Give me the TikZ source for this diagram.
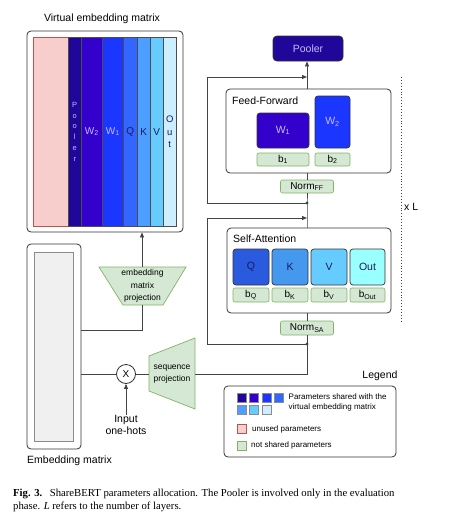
\documentclass[tikz,border=0pt]{standalone}
\usepackage{fontspec}
\setmainfont{Liberation Sans}
\newfontfamily\capfont{Liberation Serif}
\usetikzlibrary{arrows.meta}
\definecolor{pinkF}{HTML}{F8CECC}
\definecolor{pinkD}{HTML}{B85450}
\definecolor{greenF}{HTML}{D5E8D4}
\definecolor{greenD}{HTML}{82B366}
\definecolor{cPool}{HTML}{21069A}
\definecolor{cPurp}{HTML}{3300CC}
\definecolor{cBlue}{HTML}{1A36FF}
\definecolor{cQ}{HTML}{3366FF}
\definecolor{cK}{HTML}{4D9FFF}
\definecolor{cV}{HTML}{66CCFF}
\definecolor{cOutV}{HTML}{CCEEFF}
\definecolor{saQ}{HTML}{2A5BDF}
\definecolor{saK}{HTML}{4499EE}
\definecolor{saV}{HTML}{66CCFF}
\definecolor{saOut}{HTML}{99FFFF}
\definecolor{lav}{HTML}{C4BCFF}
\definecolor{darktxt}{HTML}{1A1A5E}
\definecolor{lineC}{HTML}{444444}
\newcommand{\fs}[2]{\fontsize{#1}{#2}\selectfont}
\tikzset{
  box/.style={draw=black!80, line width=0.8pt, rounded corners=4pt, inner sep=0pt},
  bbox/.style={draw=greenD, fill=greenF, rounded corners=2pt, line width=0.6pt, inner sep=0pt, font=\fs{10}{12}},
  strip/.style={draw=black!70, line width=0.5pt, minimum height=189pt, inner sep=0pt, anchor=north west},
  wbox/.style={draw=black!80, line width=0.7pt, rounded corners=3pt, inner sep=0pt},
  ln/.style={draw=lineC, line width=0.8pt},
  arr/.style={ln, -{Triangle[length=5pt,width=4pt]}},
  lsq/.style={draw=black!45, line width=0.4pt, minimum width=9pt, minimum height=9pt, inner sep=0pt},
  lbl/.style={inner sep=0pt},
}
\begin{document}
\begin{tikzpicture}[x=1pt,y=-1pt]
\useasboundingbox (0,0) rectangle (462,525);
% ---------- Virtual embedding matrix ----------
\node[lbl, font=\fs{10.5}{12}] (vemt) at (102,19) {Virtual embedding matrix};
\node[box, minimum width=156pt, minimum height=201pt] (vem) at (105,131.5) {};
\node[strip, fill=pinkF, draw=pinkD, minimum width=35pt] (s0) at (33,37) {};
\node[strip, fill=cPool, minimum width=13pt, text=lav, font=\fs{7.5}{10.8}, align=center] (s1) at (68,37) {P\\o\\o\\l\\e\\r};
\node[strip, fill=cPurp, minimum width=21pt, text=lav, font=\fs{10}{12}] (s2) at (81,37) {W\textsubscript{2}};
\node[strip, fill=cBlue, minimum width=21pt, text=lav, font=\fs{10}{12}] (s3) at (102,37) {W\textsubscript{1}};
\node[strip, fill=cQ, minimum width=14pt, text=darktxt, font=\fs{10}{12}] (s4) at (123,37) {Q};
\node[strip, fill=cK, minimum width=13pt, text=darktxt, font=\fs{10}{12}] (s5) at (137,37) {K};
\node[strip, fill=cV, minimum width=13pt, text=darktxt, font=\fs{10}{12}] (s6) at (150,37) {V};
\node[strip, fill=cOutV, minimum width=13pt, text=darktxt, font=\fs{9.5}{12.5}, align=center] (s7) at (163,37) {O\\u\\t};
% ---------- Embedding matrix ----------
\node[box, minimum width=54pt, minimum height=205pt] (emb) at (54,346.5) {};
\node[draw=black!45, fill=black!6, line width=0.6pt, minimum width=39pt, minimum height=189pt, inner sep=0pt] (embin) at (53.5,346.5) {};
\node[lbl, anchor=west, font=\fs{10.5}{12}] (embt) at (27,461) {Embedding matrix};
% ---------- embedding matrix projection ----------
\draw[draw=greenD, fill=greenF, line width=0.7pt] (99,267) -- (186,267) -- (163,305) -- (123,305) -- cycle;
\node[lbl, align=center, font=\fs{8.5}{12.5}] (emp) at (142.5,286) {embedding\\matrix\\projection};
\coordinate (empT) at (142,267);
\coordinate (empB) at (142,305);
\coordinate (empC) at (142,330);
% ---------- sequence projection ----------
\draw[draw=greenD, fill=greenF, line width=0.7pt] (149,356) -- (195,338) -- (195,409) -- (149,391) -- cycle;
\node[lbl, align=center, font=\fs{8.5}{12}] (sp) at (172,374) {sequence\\projection};
\coordinate (spL) at (149,374);
\coordinate (spR) at (195,374);
% ---------- multiply ----------
\node[draw=black!80, fill=white, line width=0.8pt, circle, minimum size=19pt, inner sep=0pt, font=\fs{10}{12}] (mul) at (126,374) {X};
\node[lbl, align=center, font=\fs{10.5}{12}] (inp) at (126,425) {Input\\one-hots};
% ---------- Pooler ----------
\node[box, fill=cPool, minimum width=70pt, minimum height=25pt, text=lav, font=\fs{10.5}{12}] (pool) at (308,48.5) {Pooler};
% ---------- Feed-Forward ----------
\node[box, fill=white, minimum width=165pt, minimum height=84pt] (ff) at (308.5,131) {};
\node[lbl, anchor=west, font=\fs{10.5}{12}] (fft) at (232,101) {Feed-Forward};
\node[wbox, fill=cPurp, minimum width=52pt, minimum height=35pt, text=lav, font=\fs{10.5}{12}] (ffw1) at (283,130.5) {W\textsubscript{1}};
\node[wbox, fill=cBlue, minimum width=35pt, minimum height=52pt, text=lav, font=\fs{10.5}{12}] (ffw2) at (332.5,122) {W\textsubscript{2}};
\node[bbox, minimum width=52pt, minimum height=13pt] (b1) at (283,159.5) {b\textsubscript{1}};
\node[bbox, minimum width=35pt, minimum height=13pt] (b2) at (332.5,159.5) {b\textsubscript{2}};
\node[bbox, minimum width=53pt, minimum height=13pt] (nff) at (307,186.5) {Norm\textsubscript{FF}};
% ---------- Self-Attention ----------
\node[box, fill=white, minimum width=164pt, minimum height=85pt] (sa) at (309,270.5) {};
\node[lbl, anchor=west, font=\fs{10.5}{12}] (sat) at (233,239) {Self-Attention};
\node[wbox, fill=saQ, minimum width=36pt, minimum height=36pt, text=darktxt, font=\fs{10.5}{12}] (q) at (251,267) {Q};
\node[wbox, fill=saK, minimum width=36pt, minimum height=36pt, text=darktxt, font=\fs{10.5}{12}] (k) at (290,267) {K};
\node[wbox, fill=saV, minimum width=36pt, minimum height=36pt, text=darktxt, font=\fs{10.5}{12}] (v) at (329,267) {V};
\node[wbox, fill=saOut, minimum width=35pt, minimum height=36pt, text=darktxt, font=\fs{10.5}{12}] (o) at (367.5,267) {Out};
\node[bbox, minimum width=36pt, minimum height=14pt] (bq) at (251,295) {b\textsubscript{Q}};
\node[bbox, minimum width=36pt, minimum height=14pt] (bk) at (290,295) {b\textsubscript{K}};
\node[bbox, minimum width=36pt, minimum height=14pt] (bv) at (329,295) {b\textsubscript{V}};
\node[bbox, minimum width=35pt, minimum height=14pt] (bo) at (367.5,295) {b\textsubscript{Out}};
\node[bbox, minimum width=53pt, minimum height=14pt] (nsa) at (307,328) {Norm\textsubscript{SA}};
% ---------- main path ----------
\coordinate (c1) at (307,374);
\coordinate (j2) at (307,344);
\coordinate (a2) at (307,218);
\coordinate (j1) at (307,203);
\coordinate (a1) at (307,77);
\draw[ln] (spR) -- (c1) -- (nsa.south);
\draw[ln] (nsa.north) -- (nsa.north |- sa.south);
\draw[ln] (nsa.north |- sa.north) -- (j1) -- (nff.south);
\draw[ln] (nff.north) -- (nff.north |- ff.south);
\draw[arr] (nff.north |- ff.north) -- (nff.north |- pool.south);
\fill[lineC] (j1) circle (1.6pt);
\fill[lineC] (j2) circle (1.6pt);
\draw[arr] (j2) -- (207,344) -- (207,218) -- (a2);
\draw[arr] (j1) -- (207,203) -- (207,77) -- (a1);
% ---------- left connections ----------
\draw[ln] (emb.east |- empC) -- (empC) -- (empB);
\draw[arr] (empT) -- (empT |- vem.south);
\draw[ln] (emb.east |- mul.west) -- (mul.west);
\draw[ln] (mul.east) -- (spL);
\draw[arr] (inp.north) -- (mul.south);
% ---------- x L ----------
\draw[lineC, line width=0.9pt, dotted] (401,77) -- (401,323);
\node[lbl, anchor=west, font=\fs{10.5}{12}] (xl) at (404,207) {x L};
% ---------- Legend ----------
\node[lbl, font=\fs{10.5}{12}] (legt) at (380,376) {Legend};
\node[box, minimum width=172pt, minimum height=71pt] (leg) at (310,421.5) {};
\node[lsq, fill=cPool] (l1) at (241.5,397.5) {};
\node[lsq, fill=cPurp] (l2) at (253.8,397.5) {};
\node[lsq, fill=cBlue] (l3) at (266.2,397.5) {};
\node[lsq, fill=cQ] (l4) at (278.5,397.5) {};
\node[lsq, fill=cK] (l5) at (241.5,409.5) {};
\node[lsq, fill=cV] (l6) at (253.8,409.5) {};
\node[lsq, fill=cOutV] (l7) at (266.2,409.5) {};
\node[lbl, anchor=west, align=left, font=\fs{8}{10}] (lt1) at (288.5,402) {Parameters shared with the\\virtual embedding matrix};
\node[lsq, fill=pinkF, draw=pinkD] (lr) at (242,429) {};
\node[lbl, anchor=west, font=\fs{8}{10}] (lt2) at (252,429) {unused parameters};
\node[lsq, fill=greenF, draw=greenD] (lg) at (242,445.5) {};
\node[lbl, anchor=west, font=\fs{8}{10}] (lt3) at (251,445.5) {not shared parameters};
% ---------- caption ----------
\node[lbl, anchor=base west, font=\capfont\fs{10.7}{13}] (cap1) at (13,496) {\textbf{Fig. 3.}\hspace{0.7em}ShareBERT parameters allocation. The Pooler is involved only in the evaluation};
\node[lbl, anchor=base west, font=\capfont\fs{10.7}{13}] (cap2) at (13,509) {phase. \textit{L} refers to the number of layers.};
\end{tikzpicture}
\end{document}
